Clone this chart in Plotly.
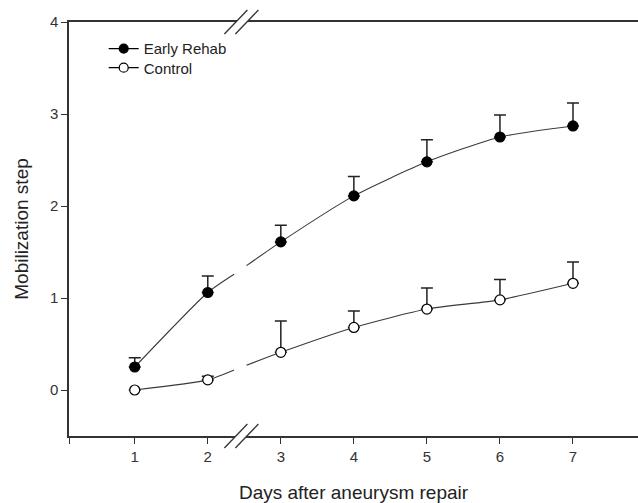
import plotly.graph_objects as go
import numpy as np

days = [1, 2, 3, 4, 5, 6, 7]
early = [0.25, 1.06, 1.61, 2.11, 2.48, 2.75, 2.87]
early_err = [0.10, 0.18, 0.18, 0.21, 0.24, 0.24, 0.25]
control = [0.00, 0.11, 0.41, 0.68, 0.88, 0.98, 1.16]
control_err = [0.00, 0.04, 0.34, 0.18, 0.23, 0.22, 0.23]
series_names = ["Early Rehab", "Control"]
x_ticks = [1, 2, 3, 4, 5, 6, 7]
y_ticks = [0, 1, 2, 3, 4]

x_range = [0.1, 7.89]
y_range = [-0.5, 4]
gap = (2.36, 2.53)      # data-line break between day 2 and day 3
break_x = 2.46          # axis break position

LINE = "#3a3a3a"
AXIS = "#333333"
FONT = "Liberation Sans, Arial, sans-serif"


def broken(xs, ys):
    gx0 = float(np.interp(gap[0], xs, ys))
    gx1 = float(np.interp(gap[1], xs, ys))
    bx = [x for x in xs if x < gap[0]] + [gap[0], None, gap[1]] + [x for x in xs if x > gap[1]]
    by = [y for x, y in zip(xs, ys) if x < gap[0]] + [gx0, None, gx1] + [y for x, y in zip(xs, ys) if x > gap[1]]
    return bx, by


fig = go.Figure()

styles = [
    dict(color="black", line=dict(color="black", width=1.2)),
    dict(color="white", line=dict(color="black", width=1.2)),
]
legend_ids = ["legend", "legend2"]

for name, ys, errs, st, lg in zip(series_names, [early, control], [early_err, control_err], styles, legend_ids):
    bx, by = broken(days, ys)
    fig.add_trace(go.Scatter(
        x=bx, y=by, mode="lines", showlegend=False, connectgaps=False,
        line=dict(color=LINE, width=1.1, shape="spline", smoothing=0.6),
        hoverinfo="skip"))
    fig.add_trace(go.Scatter(
        x=days, y=ys, mode="markers", showlegend=False, name=name,
        marker=dict(size=10, **st),
        error_y=dict(type="data", array=errs, arrayminus=[0] * len(errs), symmetric=False,
                     color="#222222", thickness=1.5, width=6)))
    fig.add_trace(go.Scatter(
        x=[None], y=[None], mode="lines+markers", name=name, legend=lg,
        line=dict(color="black", width=1.3),
        marker=dict(size=9, **st)))

shapes = []
for yanchor in (1, 0):
    # white gap in axis line between the two slashes
    shapes.append(dict(type="path", xref="x", yref="paper", xsizemode="pixel", ysizemode="pixel",
                       xanchor=break_x, yanchor=yanchor,
                       path="M-8.5,-3 L2.5,-3 L8.5,3 L-2.5,3 Z",
                       fillcolor="white", line=dict(width=0), layer="above"))
    for off in (-5.5, 5.5):
        shapes.append(dict(type="line", xref="x", yref="paper", xsizemode="pixel", ysizemode="pixel",
                           xanchor=break_x, yanchor=yanchor,
                           x0=off - 11.5, x1=off + 11.5, y0=-12, y1=12,
                           line=dict(color="#333333", width=1.3), layer="above"))

legend_common = dict(xanchor="left", yanchor="top", bgcolor="rgba(0,0,0,0)",
                     font=dict(size=15, family=FONT, color="#222222"), itemwidth=30)

fig.update_layout(
    width=638, height=503,
    margin=dict(l=69, r=0, t=22, b=67, autoexpand=False),
    paper_bgcolor="white", plot_bgcolor="white",
    font=dict(family=FONT, color="#222222", size=12),
    shapes=shapes,
    legend=dict(x=0.061, y=0.975, **legend_common),
    legend2=dict(x=0.061, y=0.929, **legend_common),
    xaxis=dict(range=x_range, tickvals=[x_range[0]] + x_ticks, ticktext=[""] + [str(t) for t in x_ticks],
               automargin=False,
               showgrid=False, zeroline=False, showline=True, linecolor=AXIS, linewidth=1.5,
               mirror=True, ticks="outside", ticklen=6, tickwidth=1.3, tickcolor=AXIS,
               tickfont=dict(size=15, color="#333333"),
               title=dict(text="Days after aneurysm repair", font=dict(size=19, color="#222222"), standoff=28)),
    yaxis=dict(range=y_range, tickvals=y_ticks, automargin=False,
               showgrid=False, zeroline=False, showline=True, linecolor=AXIS, linewidth=1.5,
               ticks="outside", ticklen=6, tickwidth=1.3, tickcolor=AXIS,
               tickfont=dict(size=15, color="#333333"),
               title=dict(text="Mobilization step", font=dict(size=19, color="#222222"), standoff=16)),
)

fig.write_html("out.html", post_script="document.body.style.margin='0';",
               config={"displayModeBar": False})
